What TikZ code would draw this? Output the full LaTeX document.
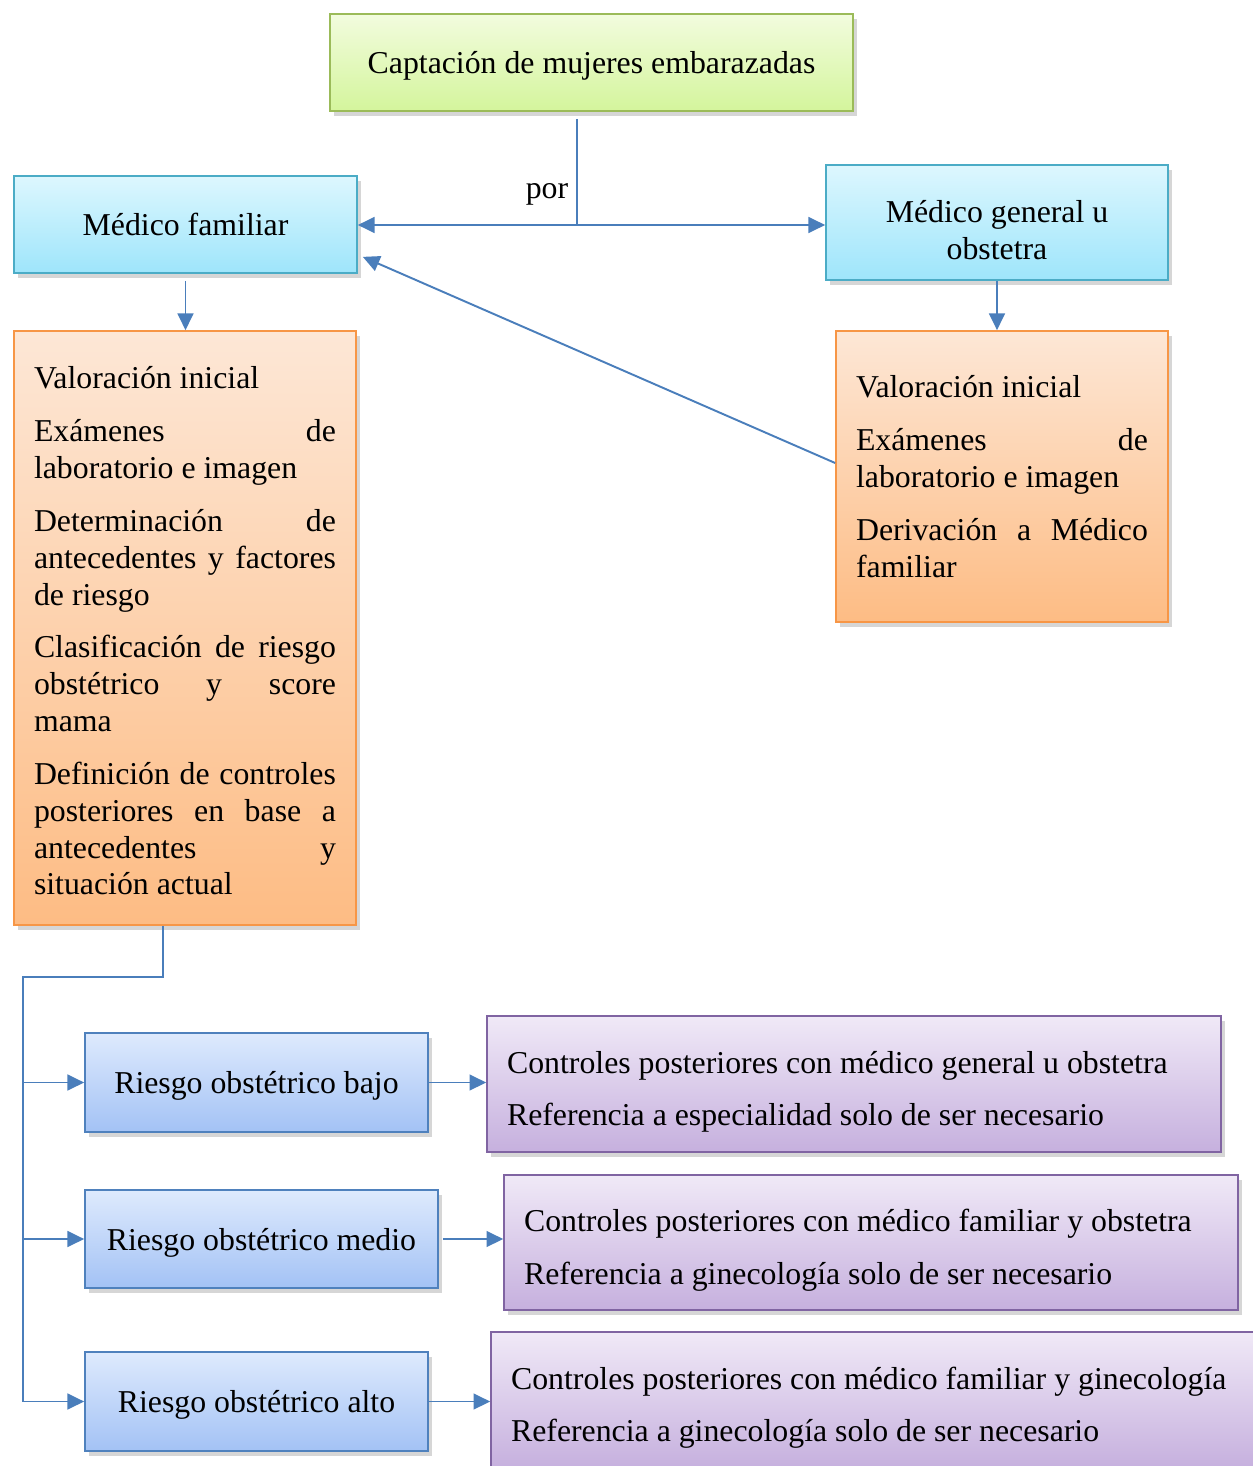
\documentclass[tikz,border=0pt]{standalone}
\usepackage{fontspec}
\setmainfont{Liberation Serif}
\usepackage{xcolor}
\usetikzlibrary{arrows.meta,shadows}
\hyphenpenalty=10000
\tolerance=10000
\definecolor{linea}{HTML}{4A7EBB}
\definecolor{verdeborde}{HTML}{9BBB59}
\definecolor{verdearriba}{HTML}{F2FCDE}
\definecolor{verdeabajo}{HTML}{D4F59C}
\definecolor{cianborde}{HTML}{4BACC6}
\definecolor{cianarriba}{HTML}{DDF7FE}
\definecolor{cianabajo}{HTML}{9EE5FB}
\definecolor{naranjaborde}{HTML}{F79646}
\definecolor{naranjaarriba}{HTML}{FDE7D6}
\definecolor{naranjaabajo}{HTML}{FDBC84}
\definecolor{azulborde}{HTML}{4F81BD}
\definecolor{azularriba}{HTML}{DEEAFD}
\definecolor{azulabajo}{HTML}{A3C2F5}
\definecolor{moradoborde}{HTML}{8064A2}
\definecolor{moradoarriba}{HTML}{F0E9F7}
\definecolor{moradoabajo}{HTML}{C6B0DE}
\newcommand{\bajar}[1]{\rule{0pt}{#1}}

\begin{document}
\begin{tikzpicture}[x=0.02cm, y=-0.02cm,
    caja/.style={draw, line width=1pt, inner xsep=0.4cm,
        font=\fontsize{18.1}{21}\selectfont,
        drop shadow={shadow xshift=2.2pt, shadow yshift=-2.8pt, opacity=0.32}},
    verde/.style={caja, draw=verdeborde, top color=verdearriba, bottom color=verdeabajo, text depth=0pt},
    cian/.style={caja, draw=cianborde, top color=cianarriba, bottom color=cianabajo, align=center},
    naranja/.style={caja, draw=naranjaborde, top color=naranjaarriba, bottom color=naranjaabajo, align=justify},
    azul/.style={caja, draw=azulborde, top color=azularriba, bottom color=azulabajo, text depth=0pt},
    morado/.style={caja, draw=moradoborde, top color=moradoarriba, bottom color=moradoabajo, align=flush left},
    conector/.style={draw=linea, line width=1.1pt},
    flecha/.style={conector, -{Triangle[length=9.5pt,width=9pt]}}]
                \useasboundingbox (0,0) rectangle (1252,1466);
                % cajas superiores
                \node[verde, minimum width=10.46cm, minimum height=1.94cm] (capt) at (591.5,62.5) {Captación de mujeres embarazadas};
                \node[cian, text depth=0pt, minimum width=6.86cm, minimum height=1.94cm] (medfam) at (185.5,224.5) {Médico familiar};
                \node[cian, minimum width=6.84cm, minimum height=2.30cm] (medgen) at (997,222.5) {\bajar{21.5pt}Médico general u\\obstetra};
                % valoraciones
                \node[naranja, text width=6.04cm, minimum height=11.88cm] (valizq) at (185,628) {\bajar{16pt}Valoración inicial\\[9pt]
                    Exámenes de\linebreak laboratorio e imagen\\[9pt]
                    Determinación de\linebreak antecedentes y factores\linebreak de riesgo\\[9pt]
                    Clasificación de riesgo\linebreak obstétrico y score\linebreak mama\\[9pt]
                    Definición de controles\linebreak posteriores en base a\linebreak antecedentes y\linebreak situación actual};
                \node[naranja, text width=5.84cm, minimum height=5.82cm] (valder) at (1002,476.5) {Valoración inicial\\[9pt]
                    Exámenes de\linebreak laboratorio e imagen\\[9pt]
                    Derivación a Médico\linebreak familiar};
                % riesgos
                \node[azul, minimum width=6.86cm, minimum height=1.98cm] (bajo) at (256.5,1082.5) {Riesgo obstétrico bajo};
                \node[azul, minimum width=7.06cm, minimum height=1.96cm] (medio) at (261.5,1239) {Riesgo obstétrico medio};
                \node[azul, minimum width=6.86cm, minimum height=1.98cm] (alto) at (256.5,1401.5) {Riesgo obstétrico alto};
                % controles
                \node[morado, text width=13.88cm, minimum height=2.72cm] (ctrlbajo) at (854,1084) {\bajar{21.5pt}Controles posteriores con médico general u obstetra\\[9pt]
                    Referencia a especialidad solo de ser necesario};
                \node[morado, text width=13.88cm, minimum height=2.70cm] (ctrlmedio) at (871,1242.5) {\bajar{21.5pt}Controles posteriores con médico familiar y obstetra\\[9pt]
                    Referencia a ginecología solo de ser necesario};
                \node[morado, text width=14.5cm, minimum height=2.72cm] (ctrlalto) at (873.5,1400) {\bajar{21.5pt}Controles posteriores con médico familiar y ginecología\\[9pt]
                    Referencia a ginecología solo de ser necesario};
                % conectores superiores
                \coordinate (rama) at (577,225);
                \draw[conector] (rama |- capt.south) ++(0,7) -- (rama);
                \draw[flecha] (rama) -- (rama -| medfam.east);
                \draw[flecha] (rama) -- (rama -| medgen.west);
                \node[font=\fontsize{18.1}{21}\selectfont] (por) at (547,194) {por};
                \draw[flecha] (medfam.south) ++(0,7) -- (medfam.south |- valizq.north);
                \draw[flecha] (medgen.south) -- (medgen.south |- valder.north);
                \draw[flecha] ([yshift=0.27cm]valder.west) -- ([shift={(0.1cm,0.34cm)}]medfam.south east);
                % arbol inferior
                \coordinate (bajada) at (163,977);
                \coordinate (tronco) at (23,977);
                \draw[conector] (bajada |- valizq.south) -- (bajada) -- (tronco) -- (tronco |- alto.west);
                \draw[flecha] (tronco |- bajo.west) -- (bajo.west);
                \draw[flecha] (tronco |- medio.west) -- (medio.west);
                \draw[flecha] (tronco |- alto.west) -- (alto.west);
                \draw[flecha] (bajo.east) -- (bajo.east -| ctrlbajo.west);
                \draw[flecha] (medio.east) ++(4,0) -- (medio.east -| ctrlmedio.west);
                \draw[flecha] (alto.east) -- (alto.east -| ctrlalto.west);
            \end{tikzpicture}
\end{document}
